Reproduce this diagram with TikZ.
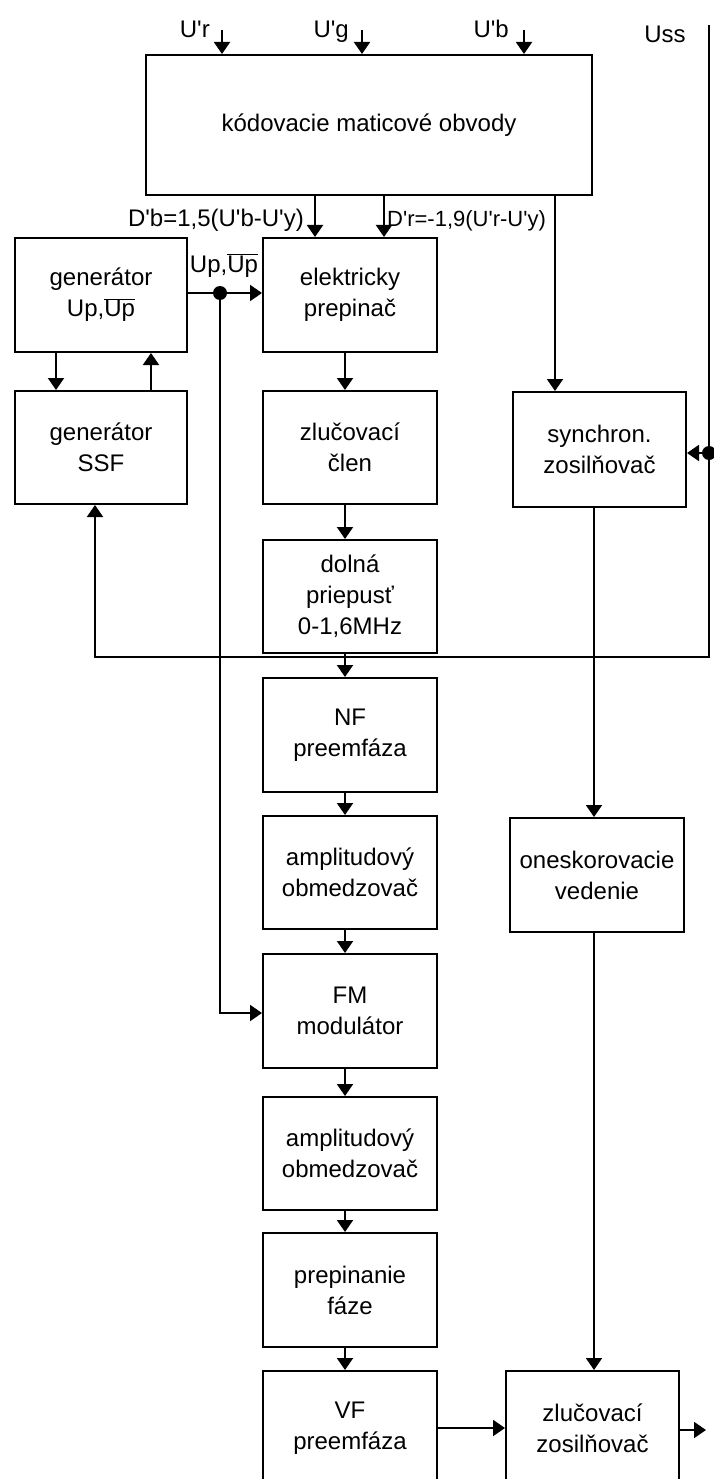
\documentclass[tikz,border=0pt]{standalone}
\usepackage{fontspec}
\setmainfont{Liberation Sans}
\usetikzlibrary{arrows.meta}
\newcommand\apo{\textquotesingle}
\newcommand\ovl[1]{$\overline{\hbox{#1}}$}
\begin{document}
\begin{tikzpicture}[x=1pt,y=-1pt,
  txt/.style={font=\fontsize{24pt}{31pt}\selectfont},
  blk/.style={txt, draw, line width=2pt, inner sep=0pt, align=center,
    minimum width=174pt, minimum height=114pt},
  lbl/.style={txt, inner sep=0pt},
  ln/.style={line width=2pt},
  arr/.style={ln, -{Triangle[length=12pt,width=16pt]}},
  jdot/.style={fill, radius=7pt}]
\clip (0,0) rectangle (714,1479);
% blocks
\node[blk, minimum width=446pt, minimum height=140pt] (kod) at (369,125) {kódovacie maticové obvody};
\node[blk, minimum width=172pt] (genup) at (101,295) {generátor\\Up,\ovl{Up}};
\node[blk, minimum width=172pt, minimum height=113pt] (ssf) at (101,447.5) {generátor\\SSF};
\node[blk] (elek) at (350,295) {elektricky\\prepinač};
\node[blk, minimum height=113pt] (zlc) at (350,447.5) {zlučovací\\člen};
\node[blk, minimum width=173pt, minimum height=115pt] (sync) at (599.5,449.5) {synchron.\\zosilňovač};
\node[blk, minimum height=113pt] (dol) at (350,596.5) {dolná\\priepusť\\0-1,6MHz};
\node[blk] (nf) at (350,735) {NF\\preemfáza};
\node[blk, minimum height=113pt] (amp1) at (350,872.5) {amplitudový\\obmedzovač};
\node[blk] (one) at (597,875) {oneskorovacie\\vedenie};
\node[blk] (fm) at (350,1011) {FM\\modulátor};
\node[blk, minimum height=113pt] (amp2) at (350,1153.5) {amplitudový\\obmedzovač};
\node[blk] (prep) at (350,1290) {prepinanie\\fáze};
\node[blk] (vf) at (350,1428) {VF\\preemfáza};
\node[blk, minimum width=173pt] (zz) at (592.5,1428) {zlučovací\\zosilňovač};
% input labels
\node[lbl, anchor=base east] (urL) at (210,38) {U\apo r};
\node[lbl, anchor=base east] (ugL) at (349,38) {U\apo g};
\node[lbl, anchor=base east] (ubL) at (509,38) {U\apo b};
\node[lbl] (ussL) at (665,34) {Uss};
\node[lbl, anchor=base east] (dbL) at (304,226) {D\apo b=1,5(U\apo b-U\apo y)};
\node[lbl, anchor=base west, font=\fontsize{22pt}{31pt}\selectfont] (drL) at (387,226) {D\apo r=-1,9(U\apo r-U\apo y)};
\node[lbl, anchor=base] (upL) at (224,272) {Up,\ovl{Up}};
% inputs
\coordinate (ur) at (222,30);
\coordinate (ug) at (362,30);
\coordinate (ub) at (524,30);
\draw[arr] (ur) -- (ur |- kod.north);
\draw[arr] (ug) -- (ug |- kod.north);
\draw[arr] (ub) -- (ub |- kod.north);
% outputs of matrix
\coordinate (db) at (315,195);
\coordinate (dr) at (384,195);
\coordinate (k3) at (555,195);
\draw[arr] (db) -- (db |- elek.north);
\draw[arr] (dr) -- (dr |- elek.north);
\draw[arr] (k3) -- (k3 |- sync.north);
% generators
\draw[arr] ([xshift=-45pt]genup.south) -- ([xshift=-45pt]ssf.north);
\draw[arr] ([xshift=50pt]ssf.north) -- ([xshift=50pt]genup.south);
\coordinate (uj) at (220,293);
\coordinate (fmin) at (220,1013);
\draw[arr] (genup.east |- uj) -- (elek.west |- uj);
\draw[arr] (uj) -- (fmin) -- (fmin -| fm.west);
\fill[jdot] (uj) circle;
% main chain
\draw[arr] ([xshift=-5pt]elek.south) -- ([xshift=-5pt]zlc.north);
\draw[arr] ([xshift=-5pt]zlc.south) -- ([xshift=-5pt]dol.north);
\draw[arr] ([xshift=-5pt]dol.south) -- ([xshift=-5pt]nf.north);
\draw[arr] ([xshift=-5pt]nf.south) -- ([xshift=-5pt]amp1.north);
\draw[arr] ([xshift=-5pt]amp1.south) -- ([xshift=-5pt]fm.north);
\draw[arr] ([xshift=-5pt]fm.south) -- ([xshift=-5pt]amp2.north);
\draw[arr] ([xshift=-5pt]amp2.south) -- ([xshift=-5pt]prep.north);
\draw[arr] ([xshift=-5pt]prep.south) -- ([xshift=-5pt]vf.north);
% Uss line and loop
\coordinate (ussT) at (709,25);
\coordinate (ussB) at (709,657);
\coordinate (loopL) at (95,657);
\coordinate (sj) at (709,453);
\draw[arr] (ussT) -- (ussB) -- (loopL) -- (loopL |- ssf.south);
\draw[arr] (sj) -- (sj -| sync.east);
\fill[jdot] (sj) circle;
% right column
\draw[arr] ([xshift=-5.5pt]sync.south) -- ([xshift=-5.5pt]sync.south |- one.north);
\draw[arr] ([xshift=-3pt]one.south) -- ([xshift=-3pt]one.south |- zz.north);
\draw[arr] (vf.east) -- (zz.west);
\coordinate (out) at (706,1430);
\draw[arr] (zz.east |- out) -- (out);
\end{tikzpicture}
\end{document}
